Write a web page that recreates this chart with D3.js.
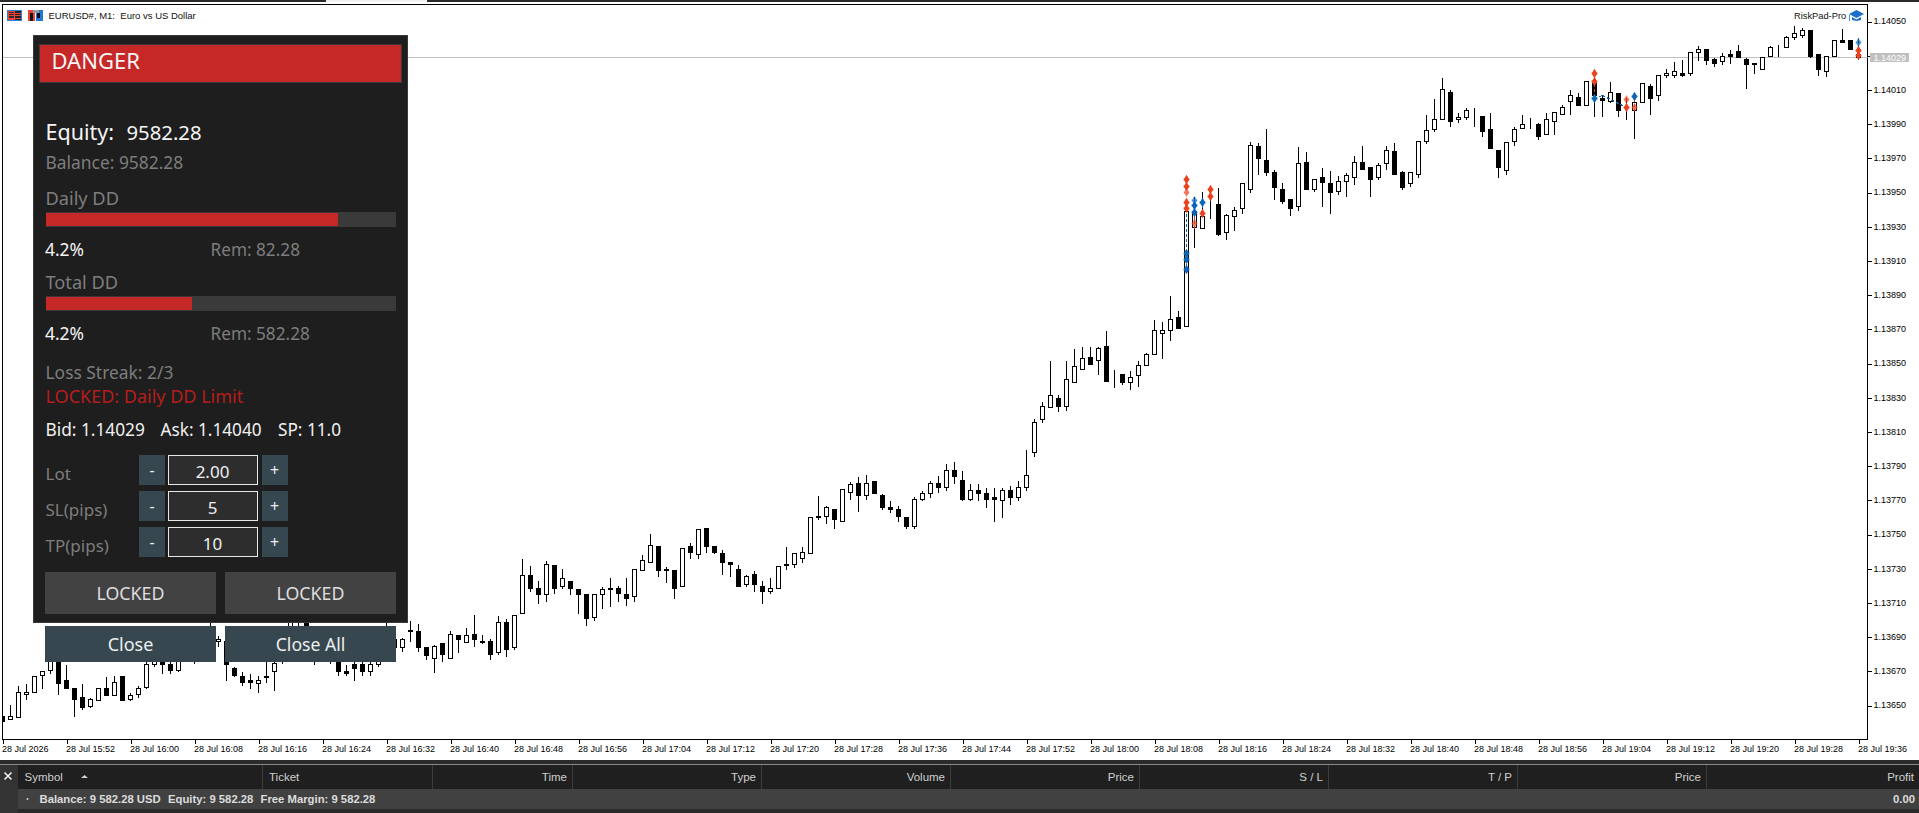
<!DOCTYPE html>
<html>
<head>
<meta charset="utf-8">
<title>EURUSD# M1</title>
<script src="https://cdn.jsdelivr.net/npm/d3@7"></script>
<style>
  html, body { margin: 0; padding: 0; background: #fff; overflow: hidden; }
  svg { display: block; }
</style>
</head>
<body>
<div id="wrapper"></div>
<script>
// prices are stored as points above 1.13000, so 650 reads 1.13650
const opens = [
  644,642,643,657,658,668,671,678,665,660,
  655,650,653,660,656,667,654,657,661,674,
  679,674,671,678,680,678,684,688,688,672,
  667,665,663,667,670,682,690,687,700,686,
  683,684,680,670,674,674,670,674,682,684,
  684,693.5,693.5,684,678,686.5,678,691,687,692,
  688,688,681,699,684,704,726.5,719,715,732,
  720,723,718,715,702,715,719,719,715,714,
  729,734,743,729,729,720,743,738.5,754,743,
  739,734,730,721,727,720,717,719,732,733,
  736,739,760,761,765,758,775,780,773,781,
  773,766,765,760,755,771,774,780,778,788,
  782,771,776,774,772,770,776,772,778,798,
  817.5,824.5,830,825,839,847,854,852,860,844,
  844,839,843,849,855.5,868,869.5,877,872,930,
  929,945,943,927,936,941,952,977,969,962,
  952,946,942,968,952,959,955.5,951,957,959,
  968,965,959,967,974,962,955.5,961,980,987,
  993,1009,993,994,998.8,995,987,975,963,980,
  988,989,990,984,992,996,1003.4,1006,1001,1014,
  1005,1003.4,1008,997,998,1003,1012,1007,1019,1019,
  1020,1020,1032,1034,1028,1027,1031,1033,1028,1026,
  1022,1030,1035,1035,1041,1042,1045,1031,1021,1030,
  1039,1039,1031
];
const highs = [
  645,651,662,663,668,670,680,680,674,660,
  663,655,661,667,668,668,658,662,677,681,
  682,678,679,688,684,686,700,691,690,673,
  670,669,668,677,680,688,705,703,703,690,
  690,688,682,674,676,676,676,680,700,692,
  690,700,698,684,686,686.5,694,692,696,703.5,
  692,689.5,703,701,703.5,736,732,723.5,735,732,
  730.5,723,718,715,716,720,725,720.5,725,730,
  738.5,751,743,731.5,729,742,745.5,754,754,744,
  741.5,734,733,727,729,723.5,725,731.5,743,739,
  743,760,773,767,765,777,781,784,785.5,781,
  774,770,767,761,772.5,776,782,785,792,793,
  788,780,780,778,778,778,779,782,800,818,
  828,852,832,852,859,860,860,860,869.5,847,
  844,846,852,857,876,875,890,881,942,948,
  951,950,953,938,942,955.5,980,979.5,988,964,
  956,947,977,974,958.4,965,963,960,962,972,
  978,965,968,978,979.5,963,962,980,996,1005,
  1017.5,1010.5,997,1000,1000,995,997,975,979.5,989,
  996,994,991,997,997,1002,1010.5,1009,1015,1016,
  1007,1015,1009,1006,1009,1014,1014,1019,1023,1027,
  1028,1033,1036,1034,1029,1032,1034,1037,1029,1026,
  1029,1036,1037,1042,1048,1047,1045,1031,1030,1039,
  1046,1040,1041
];
const lows = [
  641,642,643,654,658,660,669,657,660,644,
  648,649,653,656,656,653,653,655,660,673,
  669,669,670,677,675,677,678,685,665,667,
  662,660,658,664,659,675,686,684,683,674,
  680,675,668,668,665,668,668,673,677,683,
  682,688,682,677,669.5,676,678,681,687,685,
  686.5,677,680,679,683,704,717,710,711,716,
  719,715,704,697,700,707,708,711,709,711,
  729,734,726,722,713,720,736,736,740,739,
  727,726,720,720,717,710,716,719,730,731,
  734,739,759,757,754,758,771,764,771,774,
  765,763,758,754,754,770,772,775,776,780,
  770,770,770,766,758,760,768,770,776,796,
  816,824.5,822,823,839,847,850,844,840,836,
  838,835,837,849,855.5,853,864,871,872,918,
  929,935,925,923,928,938,950,961,960,946,
  944,937,940,952,951,942,938,949,948,955,
  964,948,958,964,961,952,954,959,979,986,
  993,989,991,993,989,983,976,959,961,978,
  988,988,981,984,984,996,996,1001,1001,995,
  995,1003,995,993,982,1003,996,1004,1017.5,1017.5,
  1018,1019,1027.6,1025,1024,1025,1026,1029,1011,1020,
  1022,1030,1030,1035,1040,1041,1029,1019,1018,1030,
  1038,1034,1028
];
const closes = [
  641,644,658,658,667,670,676,663,660,654,
  649,654,660,656,664,653,656,660,674,678,
  674,671,676,684,678,682,690,689,674,668,
  664,664,665,666.5,675,685,702,693,690,682,
  686,680,670,669,672,670,674,678,680,689,
  689,694,684,679.5,685,680,692,689,691,689,
  687,680,699,683,703,726.5,719,715,733,719,
  724.5,719,715,701,715,718,718,716,713,730,
  735,744,729,730,719,742,740,753,743,740,
  734,733,720,726,721,717,719,731.5,733,739,
  740,760,761,766,759,776.5,779.5,773,780,774,
  766,765,761,755,771,774,780,778,788,784,
  771,776,774,771,771,776,772,778,785,816,
  825,831.5,825,841,848.5,853,850,859,840,844,
  839,842,849,855.5,869.5,869.5,876,871,939,939,
  936,945,926,937,940,955.5,978,970,962,953,
  945,941,967,952,958,956,950,957,960,968,
  964,958,966,975,961,953,962,980,986.5,993,
  1010.5,992,994,998,998.8,986,976,965,979.5,987,
  990,989,983,993,997,1000,1007,1001,1015,1007,
  1004,1009,998,997,1003,1014,1005,1019,1020,1021,
  1019,1032,1034,1027.6,1026,1030,1030,1029,1025,1025,
  1029,1035,1035,1041,1043,1045,1030,1022,1030,1039,
  1038,1034,1029
];

const priceTicks = [1050,1030,1010,990,970,950,930,910,890,870,850,830,810,790,770,750,730,710,690,670,650];
const timeLabels = [
  "28 Jul 2026","28 Jul 15:52","28 Jul 16:00","28 Jul 16:08","28 Jul 16:16","28 Jul 16:24",
  "28 Jul 16:32","28 Jul 16:40","28 Jul 16:48","28 Jul 16:56","28 Jul 17:04","28 Jul 17:12",
  "28 Jul 17:20","28 Jul 17:28","28 Jul 17:36","28 Jul 17:44","28 Jul 17:52","28 Jul 18:00",
  "28 Jul 18:08","28 Jul 18:16","28 Jul 18:24","28 Jul 18:32","28 Jul 18:40","28 Jul 18:48",
  "28 Jul 18:56","28 Jul 19:04","28 Jul 19:12","28 Jul 19:20","28 Jul 19:28","28 Jul 19:36"
];
const barsPerLabel = 8;
const bid = 1029;

// trade arrows on the chart
const sellBars =   [148,148,148,148,148,149,150,151,151,199,199,203,203,204,232,232];
const sellPrices = [958,954,950,944.5,941,932,938,952,948,1020,1015,1004.5,1000,1000,1033.5,1030.5];
const sellHatch =  [0,0,1,0,0,1,0,0,0,0,0,1,0,1,0,0];
const buyBars =   [148,148,148,149,149,149,150,199,204,232];
const buyPrices = [914.5,911,905.5,945.5,942.5,938.5,944.5,1005,1006.5,1038];
const buyHatch =  [0,0,0,1,0,0,0,0,0,1];
// dashed links: bar from, price from, bar to, price to
const buyLinkFrom = [148,149,150,151,199,200,232];
const buyLinkTop = [941,947,946,953,1005,1007,1041];
const buyLinkTo = [148,149,150,151,200,203,232];
const buyLinkEnd = [905,933,937,948,1007,1000,1034];
const sellLinkBars = [199,149,204];
const sellLinkTop = [1020,940,1008];
const sellLinkEnd = [1006,928,998];

// terminal table
const tableColumns = ["Ticket","Time","Type","Volume","Price","S / L","T / P","Price","Profit"];

// panel readings
const dailyDD = 83.5;
const totalDD = 41.8;
const stepperNames = ["Lot","SL(pips)","TP(pips)"];
const stepperValues = ["2.00","5","10"];

const dimensions = { width: 1919, height: 813, frameLeft: 2.5, frameTop: 4.5, frameRight: 1867.5, frameBottom: 739.5 };
const uiFont = "'Noto Sans', sans-serif";
const chartFont = "'Liberation Sans', sans-serif";

const toPrice = p => 1.13 + p / 100000;

const svg = d3.select('#wrapper').append('svg')
  .attr('width', dimensions.width)
  .attr('height', dimensions.height)
  .attr('role', 'figure');

svg.append('rect').attr('width', dimensions.width).attr('height', dimensions.height).attr('fill', '#fff');

const defs = svg.append('defs');
defs.append('clipPath').attr('id', 'plot').append('rect')
  .attr('x', dimensions.frameLeft).attr('y', dimensions.frameTop)
  .attr('width', dimensions.frameRight - dimensions.frameLeft)
  .attr('height', dimensions.frameBottom - dimensions.frameTop);
[['hatchSell', '#e8431f'], ['hatchBuy', '#0c66b8']].forEach(([id, colour]) => {
  const p = defs.append('pattern').attr('id', id).attr('width', 2).attr('height', 2).attr('patternUnits', 'userSpaceOnUse');
  p.append('rect').attr('width', 1).attr('height', 1).attr('fill', colour);
  p.append('rect').attr('x', 1).attr('y', 1).attr('width', 1).attr('height', 1).attr('fill', colour);
});

// top strip of the terminal
svg.append('rect').attr('width', dimensions.width).attr('height', 2).attr('fill', '#2a2a2a');
svg.append('rect').attr('x', 326).attr('width', 101).attr('height', 2).attr('fill', '#f2f2f2');

const barIndex = opens.map((d, i) => i);

const xScale = d3.scaleLinear().domain([0, 232]).range([2.5, 1858.5]);
const yScale = d3.scaleLinear().domain([toPrice(650), toPrice(1050)]).range([705.5, 21.5]);
const snap = v => Math.round(v) + 0.5;
const yOf = p => snap(yScale(toPrice(p)));

// frame
svg.append('rect')
  .attr('x', dimensions.frameLeft).attr('y', dimensions.frameTop)
  .attr('width', dimensions.frameRight - dimensions.frameLeft)
  .attr('height', dimensions.frameBottom - dimensions.frameTop)
  .attr('fill', '#fff').attr('stroke', '#000').attr('shape-rendering', 'crispEdges');

const bounds = svg.append('g').attr('clip-path', 'url(#plot)').attr('shape-rendering', 'crispEdges');

// bid line
bounds.append('line')
  .attr('x1', dimensions.frameLeft).attr('x2', dimensions.frameRight)
  .attr('y1', yOf(bid)).attr('y2', yOf(bid))
  .attr('stroke', '#c0c0c0');

// candles
const candles = bounds.append('g').selectAll('g').data(barIndex).enter().append('g');
candles.append('line')
  .attr('x1', i => xScale(i)).attr('x2', i => xScale(i))
  .attr('y1', i => yOf(highs[i])).attr('y2', i => yOf(lows[i]))
  .attr('stroke', '#000');
candles.append('rect')
  .attr('x', i => xScale(i) - 2)
  .attr('y', i => yOf(Math.max(opens[i], closes[i])))
  .attr('width', 4)
  .attr('height', i => yOf(Math.min(opens[i], closes[i])) - yOf(Math.max(opens[i], closes[i])))
  .attr('fill', i => closes[i] >= opens[i] ? '#fff' : '#000')
  .attr('stroke', '#000');

// trade links
const drawLinks = (from, top, to, end, colour) => {
  bounds.append('g').selectAll('line').data(from).enter().append('line')
    .attr('x1', d => xScale(d))
    .attr('x2', (d, i) => xScale(to[i]))
    .attr('y1', (d, i) => yOf(top[i]))
    .attr('y2', (d, i) => yOf(end[i]))
    .attr('stroke', colour)
    .attr('stroke-dasharray', '3 2');
};
drawLinks(buyLinkFrom, buyLinkTop, buyLinkTo, buyLinkEnd, '#0c66b8');
drawLinks(sellLinkBars, sellLinkTop, sellLinkBars, sellLinkEnd, '#e8431f');

// trade arrows: a cross with a diamond in the middle
const arrow = d3.symbol().type(d3.symbolCross).size(18);
const arrowCore = d3.symbol().type(d3.symbolDiamond).size(26);
const drawArrows = (bars, prices, hatch, colour, patternId) => {
  const arrows = bounds.append('g').selectAll('g').data(bars).enter().append('g')
    .attr('transform', (d, i) => `translate(${xScale(d)},${yOf(prices[i])})`)
    .attr('shape-rendering', 'auto');
  [arrow, arrowCore].forEach(shape => {
    arrows.append('path')
      .attr('d', () => shape())
      .attr('fill', (d, i) => hatch[i] ? `url(#${patternId})` : colour);
  });
};
drawArrows(sellBars, sellPrices, sellHatch, '#e8431f', 'hatchSell');
drawArrows(buyBars, buyPrices, buyHatch, '#0c66b8', 'hatchBuy');

// axes
const yAxis = d3.axisRight(yScale)
  .tickValues(priceTicks.map(toPrice))
  .tickFormat(d3.format('.5f'))
  .tickSize(4);
const yAxisG = svg.append('g').attr('transform', `translate(${dimensions.frameRight},0)`).call(yAxis);
yAxisG.select('.domain').remove();
yAxisG.selectAll('line').attr('stroke', '#000').attr('shape-rendering', 'crispEdges');
yAxisG.selectAll('text').attr('x', 6).attr('y', -0.5).attr('fill', '#000').style('font', `9px ${chartFont}`);

const xAxis = d3.axisBottom(xScale)
  .tickValues(timeLabels.map((d, i) => i * barsPerLabel))
  .tickFormat((d, i) => timeLabels[i])
  .tickSize(4);
const xAxisG = svg.append('g').attr('transform', `translate(0,${dimensions.frameBottom})`).call(xAxis);
xAxisG.select('.domain').remove();
xAxisG.selectAll('line').attr('stroke', '#000').attr('shape-rendering', 'crispEdges');
xAxisG.selectAll('text').attr('text-anchor', 'start').attr('x', -1).attr('y', 6).attr('fill', '#000').style('font', `9px ${chartFont}`);

// bid label
svg.append('rect').attr('x', 1870).attr('y', 53).attr('width', 39).attr('height', 9).attr('fill', '#c0c0c0');
svg.append('text').attr('x', 1873.5).attr('y', 61).attr('fill', '#fff').style('font', `9px ${chartFont}`).text(d3.format('.5f')(toPrice(bid)));

// title and its two icons
const icon1 = svg.append('g').attr('shape-rendering', 'crispEdges');
icon1.append('rect').attr('x', 7.5).attr('y', 10.5).attr('width', 14).attr('height', 10).attr('fill', '#222').attr('stroke', '#2f7fd8');
icon1.append('rect').attr('x', 8.5).attr('y', 11.5).attr('width', 6).attr('height', 8).attr('fill', '#2b2b2b').attr('stroke', '#ee4035');
[13, 15.5, 18].forEach(y => icon1.append('line').attr('x1', 9).attr('x2', 21).attr('y1', y).attr('y2', y).attr('stroke', '#ee4035'));
const icon2 = svg.append('g').attr('shape-rendering', 'crispEdges');
icon2.append('rect').attr('x', 28).attr('y', 10).attr('width', 7).attr('height', 11).attr('fill', '#ee4035');
icon2.append('rect').attr('x', 36).attr('y', 10).attr('width', 7).attr('height', 11).attr('fill', '#1f78d8');
icon2.append('rect').attr('x', 30).attr('y', 13).attr('width', 3).attr('height', 8).attr('fill', '#111');
icon2.append('rect').attr('x', 37).attr('y', 13).attr('width', 3).attr('height', 5).attr('fill', '#111');
icon2.append('rect').attr('x', 33).attr('y', 10).attr('width', 6).attr('height', 3).attr('fill', '#999');

const text = (str, x, y, size, colour, font = uiFont, anchor = 'start', weight = 400) =>
  svg.append('text').attr('x', x).attr('y', y).attr('fill', colour)
    .attr('font-family', font).attr('font-size', size).attr('font-weight', weight)
    .attr('text-anchor', anchor).text(str);

text('EURUSD#, M1:  Euro vs US Dollar', 48.5, 18.5, 9.5, '#111', chartFont).style('white-space', 'pre');
text('RiskPad-Pro', 1794, 18.5, 9.3, '#111', chartFont);

// mortar board icon
const cap = svg.append('g').attr('transform', 'translate(1849,10)');
cap.append('path').attr('d', 'M7.5 0 L15 4 L7.5 8 L0 4 Z').attr('fill', '#1b6fc8');
cap.append('path').attr('d', 'M3 7 L7.5 9.5 L12 7 L12 10 L7.5 11 L3 10 Z').attr('fill', '#1b6fc8');
cap.append('rect').attr('x', 0).attr('y', 5).attr('width', 1).attr('height', 6).attr('fill', '#3f95e8');

// risk panel
const panel = svg.append('g').attr('shape-rendering', 'crispEdges');
const box = (x, y, w, h, fill, stroke) => panel.append('rect')
  .attr('x', x).attr('y', y).attr('width', w).attr('height', h)
  .attr('fill', fill).attr('stroke', stroke || 'none');

box(33.5, 35.5, 374, 587, '#1e1e1e', '#3a3a3a');
box(39.5, 44.5, 362, 38, '#c62828', '#3a3a3a');

const barWidth = d3.scaleLinear().domain([0, 100]).range([0, 350.5]);
box(45.5, 212, 350.5, 15, '#3a3a3a');
box(45.5, 213, barWidth(dailyDD), 13, '#c62828');
box(45.5, 296, 350.5, 15, '#3a3a3a');
box(45.5, 297, barWidth(totalDD), 13, '#c62828');

text('DANGER', 51.5, 68.5, 22, '#f5f5f5');
text('Equity:', 45.5, 140, 21.5, '#f5f5f5');
text('9582.28', 126.5, 140, 20.3, '#f5f5f5');
text('Balance: 9582.28', 45.5, 169, 17.4, '#7d7d7d');
text('Daily DD', 45.5, 205, 18.2, '#7d7d7d');
text('4.2%', 45, 256, 17.4, '#f5f5f5');
text('Rem: 82.28', 210.5, 256, 17.2, '#7d7d7d');
text('Total DD', 45.5, 289, 18.2, '#7d7d7d');
text('4.2%', 45, 340, 17.4, '#f5f5f5');
text('Rem: 582.28', 210.5, 340, 17.2, '#7d7d7d');
text('Loss Streak: 2/3', 45.5, 379, 17.4, '#7d7d7d');
text('LOCKED: Daily DD Limit', 45.5, 403, 18, '#b71c1c');
text('Bid: 1.14029', 45.5, 436, 17.3, '#f0f0f0');
text('Ask: 1.14040', 160.5, 436, 17.2, '#f0f0f0');
text('SP: 11.0', 278, 436, 17.2, '#f0f0f0');

stepperNames.forEach((name, i) => {
  const top = 455 + i * 36;
  box(138.5, top, 26.5, 30, '#37474f');
  box(168.5, top + 0.5, 89, 29, '#2d2d2d', '#e8e8e8');
  box(261.5, top, 26.5, 30, '#37474f');
  text(name, 45.5, top + 25, 17, '#7d7d7d');
  text('-', 152, top + 21, 16, '#eceff1', uiFont, 'middle');
  text(stepperValues[i], 212.5, top + 23, 17, '#f0f0f0', uiFont, 'middle');
  text('+', 274.5, top + 21, 16, '#eceff1', uiFont, 'middle');
});

box(45, 572, 171, 42, '#424242');
box(225, 572, 171, 42, '#424242');
text('LOCKED', 130.5, 599.5, 17.8, '#dedede', uiFont, 'middle');
text('LOCKED', 310.5, 599.5, 17.8, '#dedede', uiFont, 'middle');

box(45, 626, 171, 36, '#37474f');
box(225, 626, 171, 36, '#37474f');
text('Close', 130.5, 651, 18, '#eceff1', uiFont, 'middle');
text('Close All', 310.5, 651, 17.6, '#eceff1', uiFont, 'middle');

// terminal table
const footer = svg.append('g').attr('shape-rendering', 'crispEdges');
const fbox = (x, y, w, h, fill) => footer.append('rect').attr('x', x).attr('y', y).attr('width', w).attr('height', h).attr('fill', fill);
fbox(0, 760, dimensions.width, 53, '#2a2a2a');
fbox(0, 764, dimensions.width, 1, '#8a8a8a');
fbox(0, 765, dimensions.width, 24, '#1f1f1f');
fbox(18, 789, dimensions.width - 18, 20, '#414141');
fbox(0, 765, 18, 48, '#333');

// separators: one before Ticket, then the right edge of every other column
const columnEdges = [262, 432].concat(d3.range(0, 7).map(i => 572 + i * 189));
columnEdges.forEach(x => fbox(x, 765, 1, 24, '#3c3c3c'));

const tableFont = "'Liberation Sans', sans-serif";
svg.append('path').attr('d', 'M4.5 772.5 L11.5 779.5 M11.5 772.5 L4.5 779.5').attr('stroke', '#eee').attr('stroke-width', 1.6);
text('Symbol', 24.5, 781, 11.5, '#d0d0d0', tableFont);
svg.append('path').attr('d', 'M81 778 L84.5 775 L88 778 Z').attr('fill', '#d0d0d0');
tableColumns.forEach((name, i) => {
  if (i === 0) { text(name, 269, 781, 11.5, '#d0d0d0', tableFont); return; }
  const right = i === 8 ? 1914 : columnEdges[i + 1] - 5;
  text(name, right, 781, 11.5, '#d0d0d0', tableFont, 'end');
});
svg.append('circle').attr('cx', 27.5).attr('cy', 799).attr('r', 1).attr('fill', '#cfcfcf');
text('Balance: 9 582.28 USD', 39.5, 803, 11.3, '#dcdcdc', tableFont, 'start', 700);
text('Equity: 9 582.28', 168, 803, 11.3, '#dcdcdc', tableFont, 'start', 700);
text('Free Margin: 9 582.28', 260.5, 803, 11.3, '#dcdcdc', tableFont, 'start', 700);
text('0.00', 1915, 803, 11.3, '#dcdcdc', tableFont, 'end', 700);
</script>
</body>
</html>
